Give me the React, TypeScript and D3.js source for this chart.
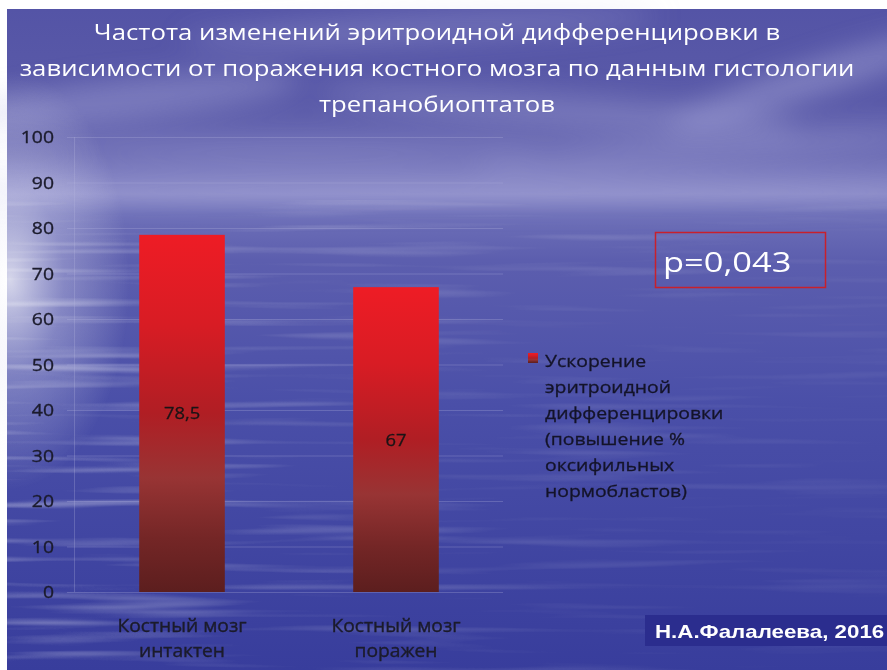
import React from "react";
import * as d3 from "d3";

const titleLines = [
  "Частота изменений эритроидной дифференцировки в",
  "зависимости от поражения костного мозга по данным гистологии",
  "трепанобиоптатов",
];
const categories = ["intact", "affected"];
const categoryLabels = [
  ["Костный мозг", "интактен"],
  ["Костный мозг", "поражен"],
];
const values = [78.5, 67];
const valueLabels = ["78,5", "67"];
const yTicks = [0, 10, 20, 30, 40, 50, 60, 70, 80, 90, 100];
const legendLines = [
  "Ускорение",
  "эритроидной",
  "дифференцировки",
  "(повышение %",
  "оксифильных",
  "нормобластов)",
];
const pValueText = "p=0,043";
const authorText = "Н.А.Фалалеева, 2016";

const W = 887;
const H = 670;
const BG_X = 7;
const BG_Y = 9;

const font = "'Open Sans', 'Noto Sans', sans-serif";

// Text on the slide is rendered slightly wide; each block gets its own horizontal scale.
function WideText({
  x,
  y,
  sx,
  children,
  ...rest
}: {
  x: number;
  y: number;
  sx: number;
  children: React.ReactNode;
  [k: string]: any;
}) {
  return (
    <text transform={`translate(${x},${y}) scale(${sx},1)`} {...rest}>
      {children}
    </text>
  );
}

export default function App() {
  const y = d3.scaleLinear().domain([0, 100]).range([592, 137]);
  const x = d3
    .scaleBand<string>()
    .domain(categories)
    .range([75, 503])
    .paddingInner(0.6)
    .paddingOuter(0.3);

  const darkInk = { stroke: "#1a1a2c", strokeWidth: 0.35 };

  return (
    <svg
      width={W}
      height={H}
      style={{ position: "absolute", left: 0, top: 0, display: "block" }}
    >
      <defs>
        <linearGradient id="bgGrad" x1="0" y1="0" x2="0" y2="1">
          <stop offset="0%" stopColor="#5454a6" />
          <stop offset="14%" stopColor="#5a5aa8" />
          <stop offset="22%" stopColor="#6c6cb4" />
          <stop offset="28%" stopColor="#8888c6" />
          <stop offset="31%" stopColor="#6e70b8" />
          <stop offset="38%" stopColor="#5c5eae" />
          <stop offset="60%" stopColor="#4a4fa8" />
          <stop offset="100%" stopColor="#383d9c" />
        </linearGradient>
        <radialGradient id="leftGlow" cx="0.5" cy="0.5" r="0.5">
          <stop offset="0%" stopColor="#ffffff" stopOpacity="0.75" />
          <stop offset="45%" stopColor="#e8e8f6" stopOpacity="0.32" />
          <stop offset="100%" stopColor="#ffffff" stopOpacity="0" />
        </radialGradient>
        <linearGradient id="barGrad" x1="0" y1="0" x2="0" y2="1">
          <stop offset="0%" stopColor="#ee1c25" />
          <stop offset="25%" stopColor="#d81c24" />
          <stop offset="50%" stopColor="#b01e24" />
          <stop offset="68%" stopColor="#983434" />
          <stop offset="85%" stopColor="#742626" />
          <stop offset="100%" stopColor="#5c1e1e" />
        </linearGradient>
        <filter id="cloudBlur" x="-50%" y="-50%" width="200%" height="200%">
          <feGaussianBlur stdDeviation="14" />
        </filter>
        <filter id="water" x="0" y="0" width="100%" height="100%">
          <feTurbulence
            type="fractalNoise"
            baseFrequency="0.004 0.11"
            numOctaves="2"
            seed="7"
          />
          <feColorMatrix
            type="matrix"
            values="0 0 0 0 1  0 0 0 0 1  0 0 0 0 1  0 0 2.2 0 -1.15"
          />
        </filter>
        <linearGradient id="waterFade" x1="0" y1="0" x2="1" y2="0">
          <stop offset="0%" stopColor="#fff" stopOpacity="0.9" />
          <stop offset="35%" stopColor="#fff" stopOpacity="0.45" />
          <stop offset="100%" stopColor="#fff" stopOpacity="0.15" />
        </linearGradient>
        <mask id="waterMask">
          <rect x={BG_X} y={200} width={W} height={H - 200} fill="url(#waterFade)" />
        </mask>
      </defs>

      {/* page background and slide backdrop */}
      <rect x={0} y={0} width={W} height={H} fill="#ffffff" />
      <g>
        <rect x={BG_X} y={BG_Y} width={W - BG_X} height={H - BG_Y} fill="url(#bgGrad)" />
        {/* clouds */}
        <g filter="url(#cloudBlur)" fill="#c4c4ea">
          <ellipse cx={120} cy={100} rx={180} ry={18} opacity={0.35} transform="rotate(-6 120 100)" />
          <ellipse cx={420} cy={28} rx={240} ry={12} opacity={0.3} transform="rotate(-3 420 28)" />
          <ellipse cx={560} cy={110} rx={240} ry={14} opacity={0.3} transform="rotate(4 560 110)" />
          <ellipse cx={810} cy={80} rx={150} ry={15} opacity={0.4} transform="rotate(-18 810 80)" />
          <ellipse cx={700} cy={150} rx={230} ry={10} opacity={0.3} transform="rotate(-4 700 150)" />
          <ellipse cx={300} cy={152} rx={240} ry={10} opacity={0.25} />
          <ellipse cx={450} cy={192} rx={520} ry={9} opacity={0.35} />
        </g>
        {/* bright haze on the left */}
        <ellipse cx={10} cy={280} rx={120} ry={210} fill="url(#leftGlow)" />
        {/* ripples on the water */}
        <rect
          x={BG_X}
          y={200}
          width={W - BG_X}
          height={H - 200}
          filter="url(#water)"
          mask="url(#waterMask)"
          opacity={0.5}
        />
      </g>

      {/* title */}
      <g fill="#ffffff" fontFamily={font} fontSize={22} textAnchor="middle">
        {titleLines.map((t, i) => (
          <WideText key={i} x={437} y={40 + i * 36} sx={1.17}>
            {t}
          </WideText>
        ))}
      </g>

      {/* gridlines and axis */}
      <g stroke="#b8b8e0" strokeOpacity={0.28} strokeWidth={1}>
        {yTicks.map((t) => (
          <line key={t} x1={67} x2={503} y1={y(t) + 0.5} y2={y(t) + 0.5} />
        ))}
        <line x1={74.5} x2={74.5} y1={y(100)} y2={y(0)} />
      </g>
      <g fill="#1c1c2c" fontFamily={font} fontSize={17} textAnchor="end" {...darkInk}>
        {yTicks.map((t) => (
          <WideText key={t} x={54} y={y(t) + 6} sx={1.14}>
            {t}
          </WideText>
        ))}
      </g>

      {/* bars */}
      {categories.map((c, i) => {
        const cx = (x(c) as number) + x.bandwidth() / 2;
        return (
          <g key={c}>
            <rect
              x={x(c)}
              y={y(values[i])}
              width={x.bandwidth()}
              height={y(0) - y(values[i])}
              fill="url(#barGrad)"
            />
            <WideText
              x={cx}
              y={(y(values[i]) + y(0)) / 2 + 6}
              sx={1.08}
              textAnchor="middle"
              fontFamily={font}
              fontSize={17}
              fill="#1a1416"
              stroke="#1a1416"
              strokeWidth={0.3}
            >
              {valueLabels[i]}
            </WideText>
            {categoryLabels[i].map((line, j) => (
              <WideText
                key={j}
                x={cx}
                y={632 + j * 25}
                sx={1.1}
                textAnchor="middle"
                fontFamily={font}
                fontSize={17.5}
                fill="#1c1c2a"
                {...darkInk}
              >
                {line}
              </WideText>
            ))}
          </g>
        );
      })}

      {/* legend */}
      <rect x={528} y={353} width={10} height={10} fill="url(#barGrad)" />
      <g fontFamily={font} fontSize={17} fill="#12122a" {...darkInk}>
        {legendLines.map((line, i) => (
          <WideText key={i} x={545} y={367 + i * 26} sx={1.14}>
            {line}
          </WideText>
        ))}
      </g>

      {/* p-value box */}
      <rect
        x={655.5}
        y={232.5}
        width={170}
        height={55}
        fill="none"
        stroke="#c8202c"
        strokeWidth={1.5}
      />
      <WideText
        x={663}
        y={272}
        sx={1.23}
        fontFamily={font}
        fontSize={28}
        fill="#ffffff"
      >
        {pValueText}
      </WideText>

      {/* author stamp */}
      <rect x={645} y={615} width={W - 645} height={31} fill="#2b2d8e" />
      <WideText
        x={655}
        y={638}
        sx={1.24}
        fontFamily="'Liberation Sans', Arial, sans-serif"
        fontWeight="bold"
        fontSize={18}
        fill="#ffffff"
      >
        {authorText}
      </WideText>
    </svg>
  );
}
